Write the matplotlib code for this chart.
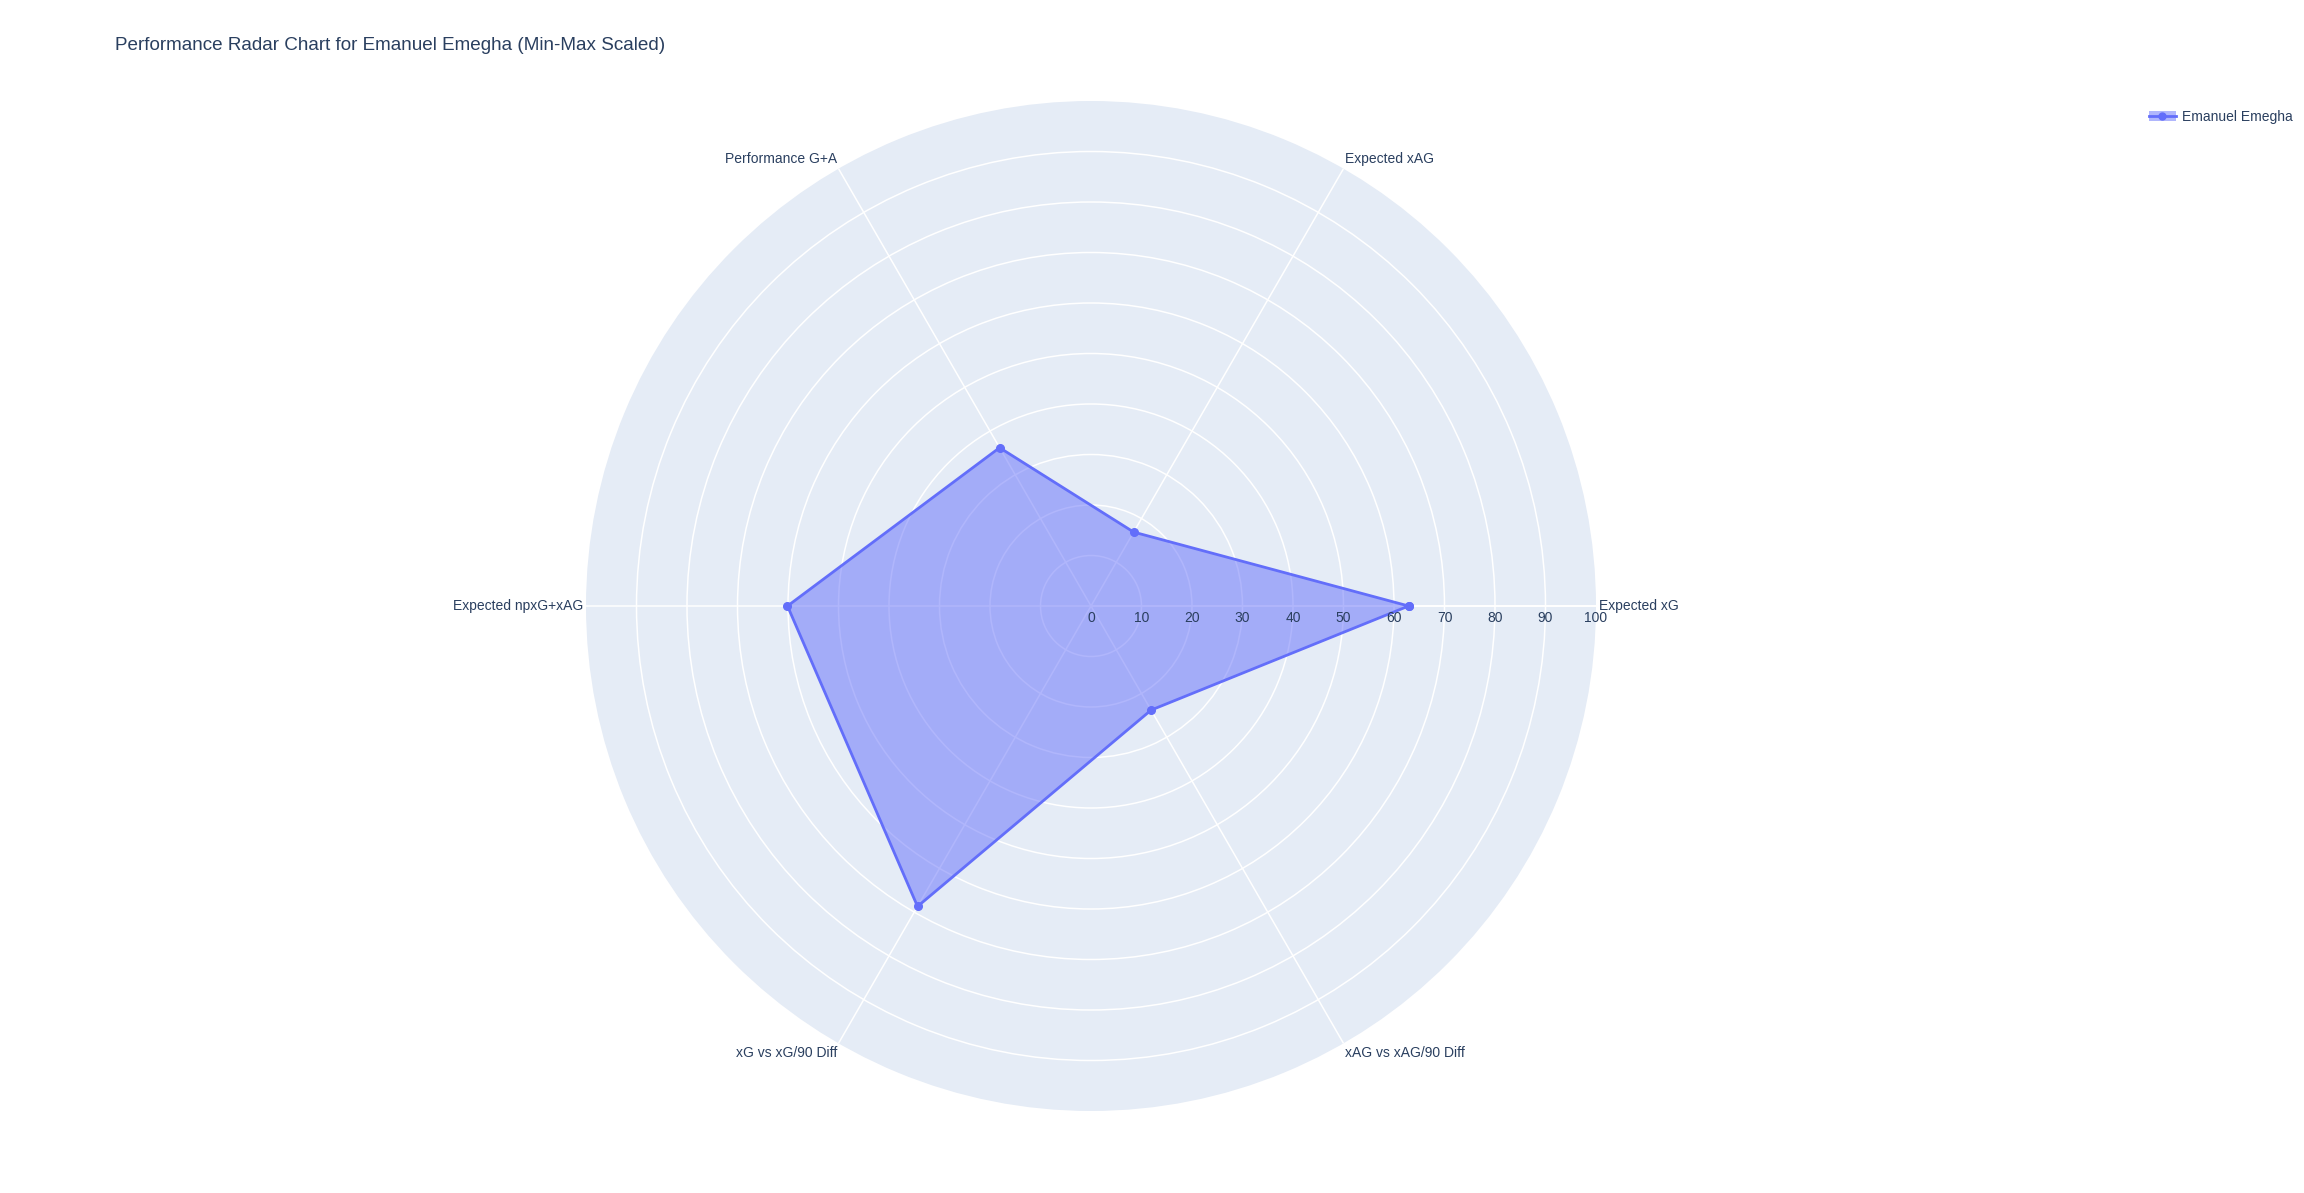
import numpy as np
import matplotlib.pyplot as plt
from matplotlib.patches import Patch
from matplotlib.lines import Line2D

plt.rcParams['font.family'] = ['Liberation Sans', 'DejaVu Sans']

# data
categories = ['Expected xG', 'Expected xAG', 'Performance G+A',
              'Expected npxG+xAG', 'xG vs xG/90 Diff', 'xAG vs xAG/90 Diff']
values = [62.9, 16.9, 36.2, 60.1, 68.7, 23.8]
player = 'Emanuel Emegha'
r_ticks = [0, 10, 20, 30, 40, 50, 60, 70, 80, 90, 100]

text_col = '#2a3f5f'
line_col = '#636efa'
bg_col = '#e5ecf6'

W, H = 2304, 1193
fig = plt.figure(figsize=(W / 100, H / 100), dpi=100)

# polar domain: center (1091, 606), radius 505 px
cx, cy, rad = 1091, 606, 505
ax = fig.add_axes([(cx - rad) / W, 1 - (cy + rad) / H, 2 * rad / W, 2 * rad / H],
                  projection='polar')
ax.set_facecolor(bg_col)

n = len(categories)
theta = np.deg2rad(np.arange(n) * 360 / n)

ax.set_ylim(0, 100)
ax.set_yticks(r_ticks[1:-1])
ax.set_yticklabels([])
ax.set_xticks(theta)
ax.set_xticklabels([])
ax.grid(color='white', linewidth=1.1)
ax.spines['polar'].set_visible(False)
ax.tick_params(length=0)

# data trace
th = np.append(theta, theta[0])
vals = np.append(values, values[0])
ax.fill(th, vals, color=line_col, alpha=0.5, linewidth=0, zorder=3)
ax.plot(th, vals, color=line_col, linewidth=2.0, marker='o', markersize=5.5, zorder=4)

# radial axis line and tick labels
ax.plot([0, 0], [0, 100], color='white', linewidth=1.3, zorder=2)
for r in r_ticks:
    ax.annotate(str(r), xy=(0, r), xytext=(0, -3.5), textcoords='offset points',
                ha='center', va='top', fontsize=10, color=text_col, zorder=5)

# angular labels
aligns = [('left', 'center'), ('left', 'bottom'), ('right', 'bottom'),
          ('right', 'center'), ('right', 'top'), ('left', 'top')]
for t, lab, (ha, va) in zip(theta, categories, aligns):
    ax.annotate(lab, xy=(t, 100), xytext=(2 * np.cos(t), 2 * np.sin(t)),
                textcoords='offset points', ha=ha, va=va,
                fontsize=10, color=text_col, annotation_clip=False)

fig.text(115 / W, 1 - 46 / H, 'Performance Radar Chart for Emanuel Emegha (Min-Max Scaled)',
         fontsize=13.6, color=text_col, va='center', ha='left')

handle = (Patch(facecolor=line_col, alpha=0.5),
          Line2D([], [], color=line_col, linewidth=2.0, marker='o', markersize=5))
leg = fig.legend([handle], [player], loc='center left',
                 bbox_to_anchor=(2136 / W, 1 - 117 / H), frameon=False,
                 fontsize=10, handlelength=2.0, handletextpad=0.4)
for t in leg.get_texts():
    t.set_color(text_col)

fig.savefig('out.png', dpi=100, facecolor='white')
